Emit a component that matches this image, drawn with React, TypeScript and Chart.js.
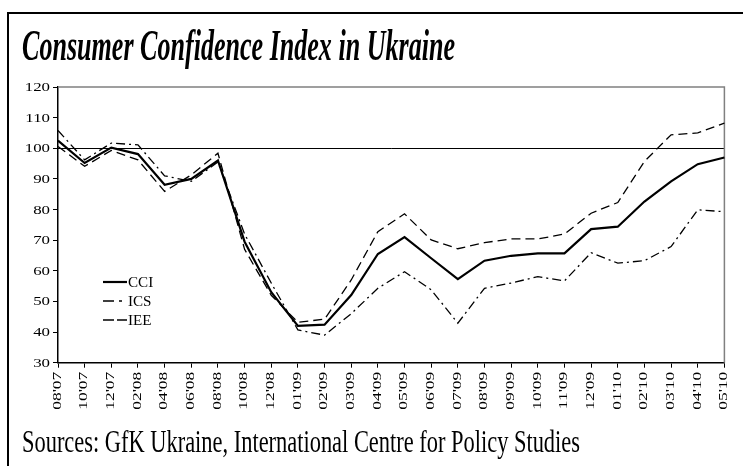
import React, { useEffect, useRef } from "react";
import { Chart, registerables } from "chart.js";

Chart.register(...registerables);

const categories = ["08'07", "10'07", "12'07", "02'08", "04'08", "06'08", "08'08", "10'08", "12'08", "01'09", "02'09", "03'09", "04'09", "05'09", "06'09", "07'09", "08'09", "09'09", "10'09", "11'09", "12'09", "01'10", "02'10", "03'10", "04'10", "05'10"];
const cci = [102.5, 95.2, 100.2, 98.1, 88.1, 90, 96, 69.5, 53, 42, 42.4, 52.1, 65.5, 71, 64.1, 57.3, 63.3, 64.9, 65.7, 65.7, 73.6, 74.4, 82.6, 89.2, 94.8, 97];
const ics = [105.8, 96.2, 101.7, 101.1, 91, 89.2, 95.5, 72, 56, 40.7, 39, 46, 54.3, 59.7, 53.8, 42.9, 54.3, 56, 58.1, 56.7, 65.9, 62.5, 63.3, 67.9, 79.9, 79.3];
const iee = [100.6, 94.1, 99.3, 96.2, 85.9, 91.3, 98.4, 67, 52, 43.2, 44.2, 57, 72.8, 78.6, 70.1, 67.2, 69.2, 70.4, 70.4, 72, 78.8, 82.3, 95.7, 104.4, 105, 108.2];
const yTicks = [30, 40, 50, 60, 70, 80, 90, 100, 110, 120];
const referenceValue = 100;

const titleText = "Consumer Confidence Index in Ukraine";
const sourceText = "Sources: GfK Ukraine, International Centre for Policy Studies";

const FONT = "'Liberation Serif', 'Times New Roman', serif";

const framePlugin = {
  id: "framePlugin",
  beforeDatasetsDraw(chart: any) {
    const { ctx, chartArea } = chart;
    const y = Math.round(chart.scales.y.getPixelForValue(referenceValue)) + 0.5;
    ctx.save();
    ctx.strokeStyle = "#000";
    ctx.lineWidth = 1;
    ctx.beginPath();
    ctx.moveTo(chartArea.left, y);
    ctx.lineTo(chartArea.right, y);
    ctx.stroke();
    ctx.strokeStyle = "#808080";
    ctx.lineWidth = 1.5;
    ctx.beginPath();
    ctx.moveTo(chartArea.left, chartArea.top);
    ctx.lineTo(chartArea.right, chartArea.top);
    ctx.lineTo(chartArea.right, chartArea.bottom);
    ctx.stroke();
    ctx.restore();
  },
  afterDraw(chart: any) {
    const { ctx } = chart;
    const xs = chart.scales.x;
    const ys = chart.scales.y;
    ctx.save();
    ctx.fillStyle = "#000";
    ctx.font = `13.5px ${FONT}`;
    ctx.textAlign = "right";
    ctx.textBaseline = "middle";
    yTicks.forEach((v) => {
      const py = ys.getPixelForValue(v);
      ctx.save();
      ctx.translate(50, py);
      ctx.scale(1.25, 1);
      ctx.fillText(String(v), 0, 0.5);
      ctx.restore();
    });
    ctx.font = `12.5px ${FONT}`;
    categories.forEach((c, i) => {
      const px = xs.getPixelForTick(i);
      ctx.save();
      ctx.translate(px - 0.5, chart.chartArea.bottom + 9);
      ctx.rotate(-Math.PI / 2);
      ctx.scale(1.4, 1);
      ctx.textAlign = "right";
      ctx.textBaseline = "middle";
      ctx.fillText(c, 0, 0);
      ctx.restore();
    });
    const x0 = 103, x1 = 127, tx = 128;
    const ly = [282, 301, 320];
    chart.data.datasets.forEach((ds: any, i: number) => {
      ctx.strokeStyle = "#000";
      ctx.lineWidth = ds.borderWidth;
      ctx.setLineDash(ds.legendDash || []);
      ctx.beginPath();
      ctx.moveTo(x0, ly[i]);
      ctx.lineTo(x1, ly[i]);
      ctx.stroke();
      ctx.setLineDash([]);
      ctx.font = `14px ${FONT}`;
      ctx.textBaseline = "middle";
      ctx.textAlign = "left";
      ctx.save();
      ctx.translate(tx, ly[i] + 1);
      ctx.scale(1.08, 1);
      ctx.fillText(ds.label, 0, 0);
      ctx.restore();
    });
    ctx.restore();
  },
};

function FitText({ text, left, top, width, font }: any) {
  const ref = useRef<HTMLSpanElement>(null);
  useEffect(() => {
    const el = ref.current;
    if (!el) return;
    el.style.transform = "none";
    const w = el.getBoundingClientRect().width;
    if (w > 0) el.style.transform = `scaleX(${width / w})`;
  }, [text, width]);
  return (
    <span
      ref={ref}
      style={{
        position: "absolute",
        left,
        top,
        font,
        lineHeight: 1,
        whiteSpace: "nowrap",
        transformOrigin: "0 0",
        color: "#000",
      }}
    >
      {text}
    </span>
  );
}

export default function App() {
  const canvasRef = useRef<HTMLCanvasElement>(null);

  useEffect(() => {
    const canvas = canvasRef.current;
    if (!canvas) return;
    const chart = new Chart(canvas, {
      type: "line",
      data: {
        labels: categories,
        datasets: [
          { label: "CCI", data: cci, borderColor: "#000", borderWidth: 2.2, pointRadius: 0, tension: 0, fill: false, order: 0, legendDash: [] } as any,
          { label: "ICS", data: ics, borderColor: "#000", borderWidth: 1.3, borderDash: [9, 4, 2, 4], pointRadius: 0, tension: 0, fill: false, order: 1, legendDash: [11, 5, 3, 5] } as any,
          { label: "IEE", data: iee, borderColor: "#000", borderWidth: 1.3, borderDash: [9, 5], pointRadius: 0, tension: 0, fill: false, order: 2, legendDash: [11, 3] } as any,
        ],
      },
      options: {
        responsive: false,
        animation: false,
        devicePixelRatio: 1,
        layout: { padding: { top: 87, right: 10, left: 0, bottom: 0 } },
        plugins: { legend: { display: false }, tooltip: { enabled: false }, title: { display: false } },
        scales: {
          x: {
            type: "category",
            offset: false,
            grid: { drawOnChartArea: false, drawTicks: true, tickLength: 5, color: "#000", lineWidth: 1 },
            border: { color: "#000", width: 1.5 },
            ticks: { autoSkip: false, maxRotation: 90, minRotation: 90, color: "rgba(0,0,0,0)", padding: 3, font: { family: FONT, size: 13 } },
            afterFit(scale: any) { scale.height = 466 - 362.7; },
          },
          y: {
            min: 30,
            max: 120,
            afterBuildTicks(scale: any) { scale.ticks = yTicks.map((v) => ({ value: v })); },
            grid: { drawOnChartArea: false, drawTicks: true, tickLength: 5, color: "#000", lineWidth: 1 },
            border: { color: "#000", width: 1.5 },
            ticks: { color: "rgba(0,0,0,0)", padding: 3, font: { family: FONT, size: 13 } },
            afterFit(scale: any) { scale.width = 58; },
          },
        },
      },
      plugins: [framePlugin],
    } as any);
    return () => chart.destroy();
  }, []);

  return (
    <div style={{ position: "absolute", left: 0, top: 0, width: 743, height: 466, overflow: "hidden", background: "#fff" }}>
      <div style={{ position: "absolute", left: 7, top: 12, width: 800, height: 500, borderLeft: "2.5px solid #000", borderTop: "2.5px solid #000", boxSizing: "border-box" }} />
      <canvas ref={canvasRef} width={743} height={466} style={{ position: "absolute", left: 0, top: 0, display: "block" }} />
      <FitText text={titleText} left={22} top={24} width={433} font={`italic bold 44px ${FONT}`} />
      <FitText text={sourceText} left={22} top={426} width={558} font={`31px ${FONT}`} />
    </div>
  );
}
